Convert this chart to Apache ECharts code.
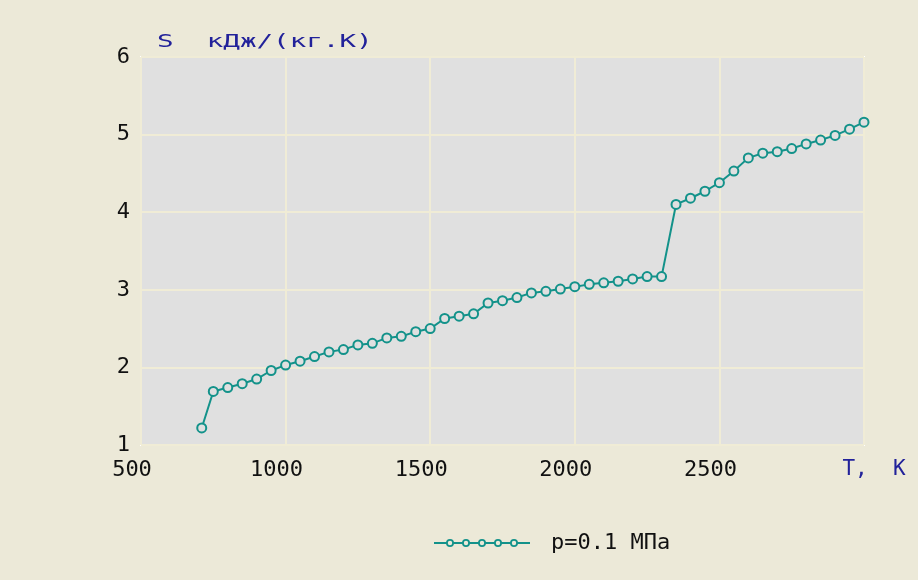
<!DOCTYPE html>
<html>
<head>
<meta charset="utf-8">
<script src="https://cdn.jsdelivr.net/npm/echarts@6/dist/echarts.min.js"></script>
<style>
html,body{margin:0;padding:0;background:#ECE9D8;}
#chart{width:918px;height:580px;}
</style>
</head>
<body>
<div id="chart"></div>
<script>
// Temperature, K
const tempK = [710, 750, 800, 850, 900, 950, 1000, 1050, 1100, 1150, 1200, 1250, 1300, 1350, 1400, 1450, 1500, 1550, 1600, 1650, 1700, 1750, 1800, 1850, 1900, 1950, 2000, 2050, 2100, 2150, 2200, 2250, 2300, 2350, 2400, 2450, 2500, 2550, 2600, 2650, 2700, 2750, 2800, 2850, 2900, 2950, 3000];
// Entropy S, kJ/(kg.K) at p = 0.1 MPa
const entropy = [1.22, 1.69, 1.74, 1.79, 1.85, 1.96, 2.03, 2.08, 2.14, 2.20, 2.23, 2.29, 2.31, 2.38, 2.40, 2.46, 2.50, 2.63, 2.66, 2.69, 2.83, 2.86, 2.90, 2.96, 2.98, 3.01, 3.04, 3.07, 3.09, 3.11, 3.14, 3.17, 3.17, 4.10, 4.18, 4.27, 4.38, 4.53, 4.70, 4.76, 4.78, 4.82, 4.88, 4.93, 4.99, 5.07, 5.16];
const seriesName = 'p=0.1 МПа';
const yAxisTitle = 'S  кДж/(кг.К)';
const xAxisTitle = 'T,  K';
const xTicks = [500, 1000, 1500, 2000, 2500, 3000];
const yTicks = [1, 2, 3, 4, 5, 6];

const teal = '#13928A';
const mono = '"DejaVu Sans Mono", monospace';

// legend icon: line with five hollow circles
function ring(cx) {
  return 'M' + (cx - 4) + ' 4 A4 4 0 1 1 ' + (cx + 4) + ' 4 A4 4 0 1 1 ' + (cx - 4) + ' 4 Z ' +
         'M' + (cx - 2.2) + ' 4 A2.2 2.2 0 1 0 ' + (cx + 2.2) + ' 4 A2.2 2.2 0 1 0 ' + (cx - 2.2) + ' 4 Z ';
}
function seg(a, b) {
  return 'M' + a + ' 3 L' + b + ' 3 L' + b + ' 5 L' + a + ' 5 Z ';
}
let iconPath = 'path://' + seg(0, 12.5) + seg(19.5, 28.5) + seg(35.5, 44.5) + seg(51.5, 60.5) + seg(67.5, 76.5) + seg(83.5, 96);
[16, 32, 48, 64, 80].forEach(c => { iconPath += ring(c); });

const chart = echarts.init(document.getElementById('chart'));
chart.setOption({
  backgroundColor: '#ECE9D8',
  animation: false,
  graphic: [{
    type: 'text',
    x: 157,
    y: 33,
    scaleX: 1.53,
    style: {
      text: yAxisTitle,
      font: '18px ' + mono,
      fill: '#22229A',
      textVerticalAlign: 'top'
    }
  }],
  grid: {
    left: 141, right: 54, top: 57, bottom: 135,
    show: true,
    backgroundColor: '#E0E0E0',
    borderColor: '#FFFFFF',
    borderWidth: 2
  },
  legend: {
    left: 429,
    top: 527,
    icon: iconPath,
    itemWidth: 96,
    itemHeight: 8,
    itemStyle: { color: teal, borderWidth: 0 },
    textStyle: { fontFamily: mono, fontSize: 22, color: '#111', padding: [0, 0, 0, 16] },
    data: [seriesName]
  },
  xAxis: {
    type: 'value',
    min: xTicks[0],
    max: xTicks[xTicks.length - 1],
    interval: 500,
    axisLine: { show: false },
    axisTick: { show: false },
    splitLine: { lineStyle: { color: '#F0ECD6', width: 2 } },
    axisLabel: {
      fontFamily: mono,
      fontSize: 22,
      color: '#111',
      margin: 14,
      padding: [0, 18, 0, 0],
      formatter: function (v) {
        return v === xTicks[xTicks.length - 1] ? '{t|' + xAxisTitle + '}' : String(v);
      },
      rich: {
        t: { fontFamily: mono, fontSize: 21, color: '#22229A', padding: [0, 0, 0, 38] }
      }
    }
  },
  yAxis: {
    type: 'value',
    min: yTicks[0],
    max: yTicks[yTicks.length - 1],
    interval: 1,
    axisLine: { show: false },
    axisTick: { show: false },
    splitLine: { lineStyle: { color: '#F0ECD6', width: 2 } },
    axisLabel: {
      fontFamily: mono,
      fontSize: 22,
      color: '#111',
      margin: 11
    }
  },
  series: [{
    name: seriesName,
    type: 'line',
    data: tempK.map((t, i) => [t, entropy[i]]),
    symbol: 'circle',
    symbolSize: 9,
    lineStyle: { color: teal, width: 2 },
    itemStyle: { color: '#E0E0E0', borderColor: teal, borderWidth: 2 }
  }]
});
</script>
</body>
</html>
